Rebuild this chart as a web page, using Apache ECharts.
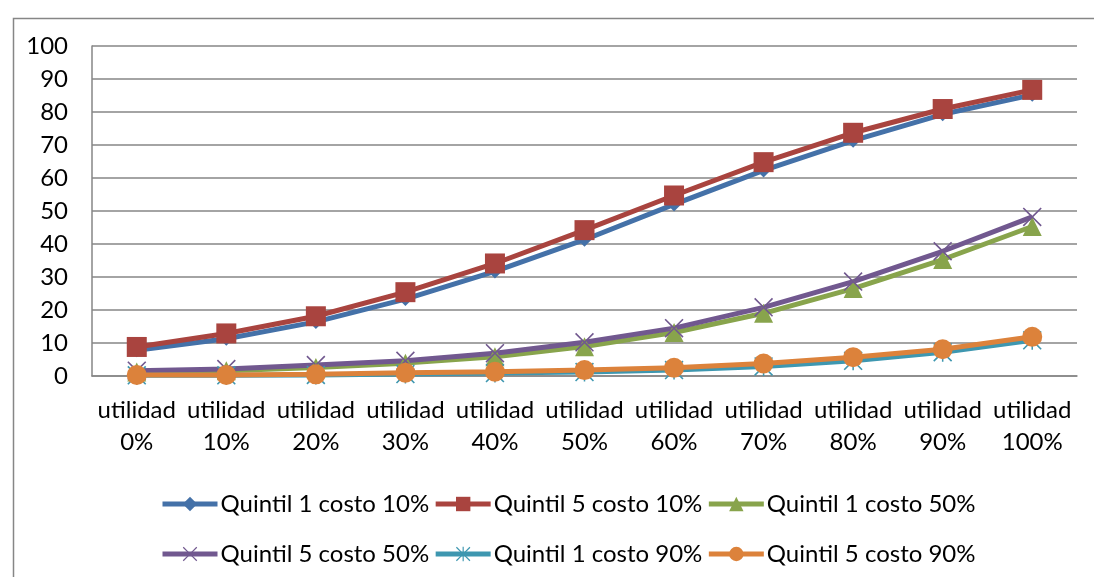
<!DOCTYPE html>
<html>
<head>
<meta charset="utf-8">
<script src="https://cdn.jsdelivr.net/npm/echarts@6/dist/echarts.min.js"></script>
<style>
  html, body { margin: 0; padding: 0; background: #ffffff; }
  #chart { width: 1094px; height: 577px; }
</style>
</head>
<body>
<div id="chart"></div>
<script>
// Categories along the horizontal axis
const categories = ['utilidad\n0%', 'utilidad\n10%', 'utilidad\n20%', 'utilidad\n30%', 'utilidad\n40%',
  'utilidad\n50%', 'utilidad\n60%', 'utilidad\n70%', 'utilidad\n80%', 'utilidad\n90%', 'utilidad\n100%'];

// Series values
const q1c10 = [7.8, 11.3, 16.4, 23.3, 31.7, 41.3, 52.0, 62.3, 71.3, 79.3, 85.2];
const q5c10 = [8.8, 12.9, 18.1, 25.4, 34.1, 44.2, 54.7, 64.8, 73.7, 80.9, 86.7];
const q1c50 = [1.2, 1.6, 2.6, 3.9, 5.8, 8.9, 13.2, 19.0, 26.5, 35.3, 45.3];
const q5c50 = [1.6, 2.1, 3.3, 4.6, 6.9, 10.2, 14.5, 20.8, 28.6, 37.8, 48.2];
const q1c90 = [0.2, 0.2, 0.3, 0.6, 0.9, 1.2, 1.8, 2.9, 4.6, 7.2, 10.8];
const q5c90 = [0.3, 0.3, 0.5, 1.0, 1.3, 1.8, 2.5, 3.8, 5.7, 8.1, 11.9];

const seriesNames = ['Quintil 1 costo 10%', 'Quintil 5 costo 10%', 'Quintil 1 costo 50%',
  'Quintil 5 costo 50%', 'Quintil 1 costo 90%', 'Quintil 5 costo 90%'];

// Y axis scale
const yMin = 0, yMax = 100, yStep = 10;

const FONT = 'Lato';
const FONT_SIZE = 24;

// Marker shapes: a thin cross and an asterisk (cross plus vertical bar)
const crossPath = 'path://M0,6L6,0L50,44L94,0L100,6L56,50L100,94L94,100L50,56L6,100L0,94L44,50Z';
const starPath = 'path://M0,6L6,0L50,44L94,0L100,6L56,50L100,94L94,100L50,56L6,100L0,94L44,50Z M46,0L54,0L54,100L46,100Z';

const styles = [
  { color: '#4471A8', symbol: 'diamond', size: 14 },
  { color: '#A9443F', symbol: 'rect', size: 20 },
  { color: '#88A44C', symbol: 'triangle', size: 19 },
  { color: '#71588F', symbol: crossPath, size: 19 },
  { color: '#3E97B0', symbol: starPath, size: 19 },
  { color: '#DC823B', symbol: 'circle', size: 20 }
];
const values = [q1c10, q5c10, q1c50, q5c50, q1c90, q5c90];

const chart = echarts.init(document.getElementById('chart'), null, { renderer: 'canvas' });

const series = seriesNames.map((name, i) => ({
  name: name,
  type: 'line',
  data: values[i],
  symbol: styles[i].symbol,
  symbolSize: styles[i].size,
  showAllSymbol: true,
  lineStyle: { color: styles[i].color, width: 5 },
  itemStyle: { color: styles[i].color },
  emphasis: { disabled: true },
  animation: false
}));

const legendCommon = {
  left: 155,
  orient: 'horizontal',
  itemWidth: 55,
  itemHeight: 18,
  itemGap: 4,
  lineStyle: { width: 5 },
  textStyle: { fontFamily: FONT, fontSize: FONT_SIZE, color: '#000000', padding: [0, 0, 0, -2] },
  selectedMode: false
};

chart.setOption({
  backgroundColor: '#ffffff',
  animation: false,
  textStyle: { fontFamily: FONT },
  grid: { left: 92, right: 17, top: 46, bottom: 201, containLabel: false },
  xAxis: {
    type: 'category',
    data: categories,
    boundaryGap: true,
    axisLine: { show: true, lineStyle: { color: '#868686', width: 1.5 } },
    axisTick: { show: false },
    axisLabel: {
      interval: 0,
      margin: 18,
      fontFamily: FONT,
      fontSize: FONT_SIZE,
      color: '#000000',
      lineHeight: 32,
      align: 'center'
    }
  },
  yAxis: {
    type: 'value',
    min: yMin,
    max: yMax,
    interval: yStep,
    axisLine: { show: true, lineStyle: { color: '#868686', width: 1.5 } },
    axisTick: { show: false },
    splitLine: { show: true, lineStyle: { color: '#868686', width: 1.5 } },
    axisLabel: { margin: 24, fontFamily: FONT, fontSize: FONT_SIZE, color: '#000000' }
  },
  legend: [
    Object.assign({ top: 487, data: seriesNames.slice(0, 3) }, legendCommon),
    Object.assign({ top: 537, data: seriesNames.slice(3, 6) }, legendCommon)
  ],
  graphic: [{
    type: 'rect',
    left: 11,
    top: 16,
    shape: { width: 1200, height: 700 },
    style: { fill: 'none', stroke: '#868686', lineWidth: 1.5 },
    silent: true,
    z: -10
  }],
  series: series
});
</script>
</body>
</html>
